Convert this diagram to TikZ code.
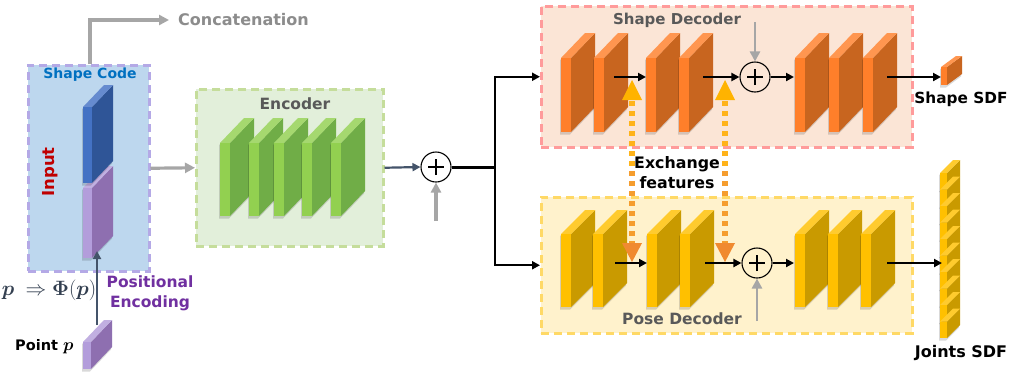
\documentclass[tikz,border=0pt]{standalone}
\usepackage{fontspec}
\setmainfont{DejaVu Sans}
\usepackage{amsmath,bm}
\usetikzlibrary{arrows.meta}
\definecolor{inFill}{HTML}{BDD7EE}
\definecolor{inLine}{HTML}{B4A9E6}
\definecolor{encFill}{HTML}{E2EFDA}
\definecolor{encLine}{HTML}{C5DD9B}
\definecolor{sdFill}{HTML}{FBE5D6}
\definecolor{sdLine}{HTML}{FF9B9B}
\definecolor{pdFill}{HTML}{FFF2CC}
\definecolor{pdLine}{HTML}{FFD966}
\definecolor{bluF}{HTML}{4472C4}
\definecolor{bluS}{HTML}{2F5597}
\definecolor{purF}{HTML}{B39DDB}
\definecolor{purS}{HTML}{8E6FB0}
\definecolor{grnF}{HTML}{92D050}
\definecolor{grnS}{HTML}{70AD47}
\definecolor{orgF}{HTML}{FF7F2A}
\definecolor{orgS}{HTML}{C8651F}
\definecolor{ylwF}{HTML}{FFC000}
\definecolor{ylwS}{HTML}{C99A00}
\definecolor{txtGray}{HTML}{595959}
\definecolor{catGray}{HTML}{8C8C8C}
\definecolor{arrGray}{HTML}{A6A6A6}
\definecolor{slate}{HTML}{44546A}
\definecolor{mathInk}{HTML}{333F50}
\definecolor{codeBlue}{HTML}{0070C0}
\definecolor{inRed}{HTML}{C00000}
\definecolor{posPurple}{HTML}{7030A0}
\definecolor{exGold}{HTML}{FFB31A}
\definecolor{exOrange}{HTML}{F59D2E}
\definecolor{headGold}{HTML}{FFB300}
\definecolor{headOrange}{HTML}{F08A30}
\newcommand{\slab}[8]{%
  \fill[black,opacity=.15] (#1-1,#2+2) -- (#1-1,#3+2.5) -- (#1+#4-1,#3+2.5) -- (#1+#4+#5-1,#3-#6+2.5) -- (#1+#4+#5-1,#2-#6+2) -- cycle;
  \fill[#8] (#1+#4,#2) -- (#1+#4+#5,#2-#6) -- (#1+#4+#5,#3-#6) -- (#1+#4,#3) -- cycle;
  \fill[#7!82!white] (#1,#2) -- (#1+#5,#2-#6) -- (#1+#4+#5,#2-#6) -- (#1+#4,#2) -- cycle;
  \fill[#7] (#1,#2) rectangle (#1+#4,#3);
}
\begin{document}
\begin{tikzpicture}[x=1pt,y=-1pt,
  box/.style={draw, line width=2.5pt, dash pattern=on 8pt off 5pt, anchor=north west, inner sep=0pt},
  lbl/.style={inner sep=0pt, font=\bfseries\fontsize{15.5}{19}\selectfont},
  arr/.style={line width=2.2pt, -{Triangle[length=8pt,width=8pt]}},
  garr/.style={draw=arrGray, line width=3.2pt, -{Triangle[length=10pt,width=10pt]}},
  plusc/.style={circle, draw, line width=1.1pt, minimum size=30pt, inner sep=0pt},
  exch/.style={line width=6pt, dash pattern=on 5pt off 5pt}]
\fill[white] (0,0) rectangle (1014,373);
\useasboundingbox (0,0) rectangle (1014,373);

% boxes
\node[box, fill=inFill, draw=inLine, minimum width=121pt, minimum height=206pt] (inbox) at (27,64) {};
\node[box, fill=encFill, draw=encLine, minimum width=187pt, minimum height=157pt] (encbox) at (195,88) {};
\node[box, fill=sdFill, draw=sdLine, minimum width=371pt, minimum height=141pt] (sdbox) at (540,5) {};
\node[box, fill=pdFill, draw=pdLine, minimum width=371pt, minimum height=136pt] (pdbox) at (540,196) {};

% labels
\node[lbl, text=codeBlue, font=\bfseries\fontsize{14}{17}\selectfont] (sc) at (90,75) {Shape Code};
\node[lbl, text=inRed, rotate=90, font=\bfseries\fontsize{16.5}{19}\selectfont] (inp) at (50,172) {Input};
\node[lbl, text=catGray, anchor=west, font=\bfseries\fontsize{16}{19}\selectfont] (concat) at (178,20) {Concatenation};
\node[lbl, text=txtGray] (enc) at (295,104) {Encoder};
\node[lbl, text=txtGray, font=\bfseries\fontsize{15}{18}\selectfont] (sdl) at (677,20) {Shape Decoder};
\node[lbl, text=txtGray] (pdl) at (682,319) {Pose Decoder};
\node[lbl, font=\bfseries\fontsize{15.3}{18}\selectfont] (ssdf) at (961,99) {Shape SDF};
\node[lbl, font=\bfseries\fontsize{16}{19}\selectfont] (jsdf) at (961,353) {Joints SDF};
\node[lbl, align=center, font=\bfseries\fontsize{15.8}{20}\selectfont] (exl) at (677,173) {Exchange\\features};
\node[lbl, text=posPurple, align=center, font=\bfseries\fontsize{15.5}{20}\selectfont] (pel) at (150,293) {Positional\\Encoding};
\node[inner sep=0pt, text=mathInk, font=\fontsize{19.5}{22}\selectfont] (phi) at (49,290) {$\bm{p}\;\Rightarrow\bm{\Phi}(\bm{p})$};
\node[lbl, anchor=west, font=\bfseries\fontsize{14.5}{17}\selectfont] (ptl) at (15,347) {Point \fontsize{18}{20}\selectfont$\bm{p}$};

% input blocks
\slab{83}{188}{258}{9}{21}{22}{purF}{purS}
\slab{83}{107}{183}{9}{21}{22}{bluF}{bluS}
\slab{83}{342}{369}{8}{21}{22}{purF}{purS}

% encoder blocks
\foreach \bx in {220,249,274,302,331} {\slab{\bx}{143}{216}{10}{24}{25}{grnF}{grnS}}

% shape decoder blocks
\foreach \bx in {561,594,646,679,795,829,863} {\slab{\bx}{58}{132}{10}{24}{25}{orgF}{orgS}}
% pose decoder blocks
\foreach \bx in {561,593,647,680,795,828,861} {\slab{\bx}{234}{307}{10}{24}{24}{ylwF}{ylwS}}

% outputs
\slab{941}{67}{85}{6}{15}{11}{orgF}{orgS}
\foreach \i in {0,...,9} {\slab{940}{173+\i*16.5}{189.5+\i*16.5}{7}{13}{13}{ylwF}{ylwS}}

% plus nodes
\node[plusc] (p1) at (436,167) {};
\node[plusc] (p2) at (755,77) {};
\node[plusc] (p3) at (757,263) {};
\foreach \p in {p1,p2,p3} {
  \draw[line width=1.3pt] ([xshift=-8pt]\p.center) -- ([xshift=8pt]\p.center);
  \draw[line width=1.3pt] ([yshift=-8pt]\p.center) -- ([yshift=8pt]\p.center);
}

% coordinates
\coordinate (cc) at (90,64);
\coordinate (ptop) at (97,325);
\coordinate (pin) at (97,251);
\coordinate (g1) at (436,221);
\coordinate (g2) at (755,22);
\coordinate (g3) at (757,321);
\coordinate (j) at (495,167);
\coordinate (s1a) at (614,77); \coordinate (s1b) at (646,77);
\coordinate (s2a) at (703,77);
\coordinate (s3b) at (794,77);
\coordinate (s4a) at (887,77); \coordinate (s4b) at (941,77);
\coordinate (q1a) at (615,263); \coordinate (q1b) at (647,263);
\coordinate (q2a) at (705,263);
\coordinate (q3b) at (794,263);
\coordinate (q4a) at (887,263); \coordinate (q4b) at (942,263);

% connectors
\draw[garr] (cc) |- ([xshift=-9pt]concat.west);
\draw[garr] (inbox.east) -- (encbox.west);
\draw[line width=2.2pt, draw=slate, -{Triangle[length=8pt,width=8pt]}] (ptop) -- (pin);
\draw[line width=2.2pt, draw=slate, -{Triangle[length=8pt,width=8pt]}] (encbox.east) -- (p1.west);
\draw[garr] (g1) -- (p1.south);
\draw[line width=3pt] (p1.east) -- (j);
\draw[arr] (j) |- (sdbox.west);
\draw[arr] (j) |- (pdbox.west);
\draw[arr] (s1a) -- (s1b);
\draw[arr] (s2a) -- (p2.west);
\draw[arr] (p2.east) -- (s3b);
\draw[arr] (s4a) -- (s4b);
\draw[garr, line width=2.6pt] (g2) -- (p2.north);
\draw[arr] (q1a) -- (q1b);
\draw[arr] (q2a) -- (p3.west);
\draw[arr] (p3.east) -- (q3b);
\draw[arr] (q4a) -- (q4b);
\draw[garr, line width=2.6pt] (g3) -- (p3.south);

% exchange features
\foreach \ex in {632,725} {
  \coordinate (ea\ex) at (\ex,101);
  \coordinate (em\ex) at (\ex,171);
  \coordinate (eb\ex) at (\ex,243);
  \draw[exch, draw=exGold] (ea\ex) -- (em\ex);
  \draw[exch, draw=exOrange] (em\ex) -- (eb\ex);
  \fill[headGold] (\ex,80) -- (\ex+10,100) -- (\ex-10,100) -- cycle;
  \fill[headOrange] (\ex,262) -- (\ex+10,243) -- (\ex-10,243) -- cycle;
}
\end{tikzpicture}
\end{document}
